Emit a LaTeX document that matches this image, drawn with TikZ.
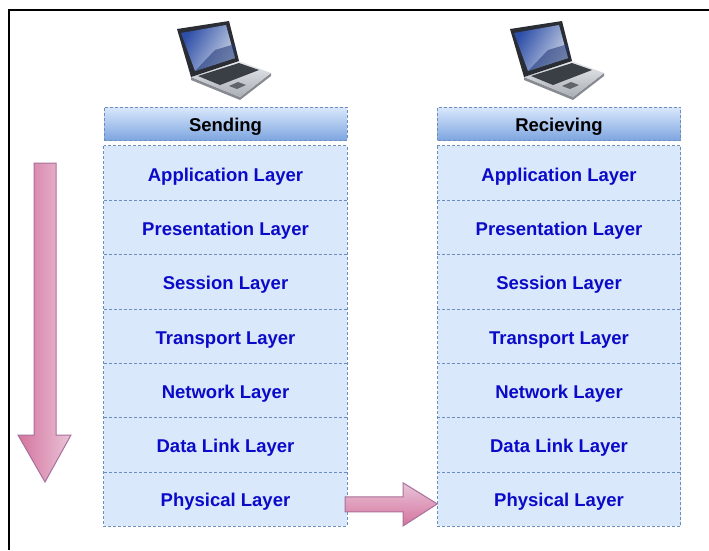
\documentclass[tikz,border=0pt]{standalone}
\usepackage{fontspec}
\setmainfont{Liberation Sans}
\usetikzlibrary{calc}

\definecolor{layerfill}{HTML}{DAE8FC}
\definecolor{headerdark}{HTML}{7EA6E0}
\definecolor{lineblue}{HTML}{6C8EBF}
\definecolor{layertext}{HTML}{0A0AC8}
\definecolor{pinklight}{HTML}{E8C4D8}
\definecolor{pinkdark}{HTML}{D5739D}
\definecolor{arrowline}{HTML}{A8709A}
\definecolor{screenframe}{HTML}{2A2D33}
\definecolor{screenblue}{HTML}{2E4FA8}
\definecolor{screenlight}{HTML}{C9D2E4}
\definecolor{silverhi}{HTML}{E9EBEE}
\definecolor{silverlo}{HTML}{A9AEB5}
\definecolor{keys}{HTML}{3A3E45}

\tikzset{
  % one notebook computer, drawn in page pixels
  laptop/.pic={
    % base edge (thickness)
    \fill[silverlo!80!black] (191,77) -- (240,97) -- (271,73) -- (271,76) -- (240,100) -- (191,80) -- cycle;
    % base top surface
    \path[top color=silverhi, bottom color=silverlo] (191,77) -- (239,61) -- (271,73) -- (240,97) -- cycle;
    % keyboard
    \fill[keys] (198,76) -- (239,63) -- (259,70) -- (220,85) -- cycle;
    % touchpad
    \fill[keys!80!white] (229,86) -- (238,82) -- (246,85) -- (237,89) -- cycle;
    % screen lid
    \fill[screenframe] (177,29) -- (229,21) -- (239,61) -- (191,77) -- cycle;
    \path[left color=screenblue, right color=screenlight, shading angle=60] (181,33) -- (226,25) -- (235,58) -- (195,71) -- cycle;
    \fill[screenblue!70!black, opacity=0.55] (215,50) -- (235,44) -- (235,58) -- (195,71) -- cycle;
  }
}

\begin{document}
\begin{tikzpicture}[x=1pt, y=-1pt,
  border/.style={draw=lineblue, dash pattern=on 3pt off 2pt, line width=0.9pt},
  layer/.style={fill=layerfill, minimum width=243pt, minimum height=54.29pt, inner sep=0pt,
    text height=16pt, text depth=0pt,
    text=layertext, font=\bfseries\fontsize{18.5}{22}\selectfont},
  header/.style={layer, border, top color=layerfill, bottom color=headerdark,
    minimum height=33pt, text=black},
  flow/.style={draw=arrowline, line width=1pt, line join=miter}
]
\useasboundingbox (0,0) rectangle (709,550);

% frame on the left and top
\draw[line width=2.2pt] (8.7,550) -- (8.7,9.7) -- (709,9.7);

% the two computers
\pic at (0,0) {laptop};
\pic at (333,0) {laptop};

% sending stack
\node[header] (sh) at (225.5,123.5) {Sending};
\foreach \t [count=\i] in {Application Layer, Presentation Layer, Session Layer,
    Transport Layer, Network Layer, Data Link Layer, Physical Layer}
  \node[layer] (s\i) at (225.5,{146+54.29*(\i-0.5)}) {\t};

% receiving stack
\node[header] (rh) at (559,123.5) {Recieving};
\foreach \t [count=\i] in {Application Layer, Presentation Layer, Session Layer,
    Transport Layer, Network Layer, Data Link Layer, Physical Layer}
  \node[layer] (r\i) at (559,{146+54.29*(\i-0.5)}) {\t};

% dashed outlines and separators of both stacks
\foreach \c in {s,r} {
  \draw[border] (\c1.north west) rectangle (\c7.south east);
  \foreach \i in {1,...,6}
    \draw[border] (\c\i.south west) -- (\c\i.south east);
}

% downward data flow on the sending side
\path[flow, left color=pinkdark, right color=pinklight]
  (34,163) -- (56,163) -- (56,435) -- (71,435) -- (45,482) -- (18,435) -- (34,435) -- cycle;

% transfer from sender to receiver
\path[flow, top color=pinklight, bottom color=pinkdark]
  ($(s7.east)+(-2,-2)$) -- ($(s7.east)+(56,-2)$) -- ($(s7.east)+(56,-16)$)
  -- ($(r7.west)+(0,5)$)
  -- ($(s7.east)+(56,27)$) -- ($(s7.east)+(56,13)$) -- ($(s7.east)+(-2,13)$) -- cycle;
\end{tikzpicture}
\end{document}
